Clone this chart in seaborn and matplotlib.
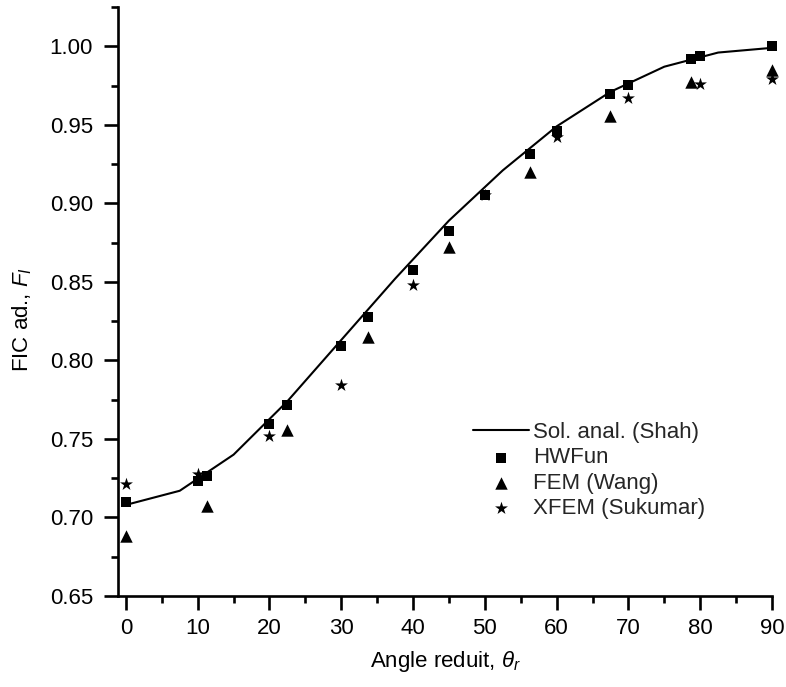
import matplotlib
matplotlib.use("Agg")
import matplotlib.pyplot as plt
import seaborn as sns
from matplotlib.ticker import MultipleLocator, FormatStrFormatter

# ---- data ----
shah_angle = [0, 7.5, 15, 22.5, 30, 37.5, 45, 52.5, 60, 67.5, 75, 82.5, 90]
shah_fic = [0.708, 0.717, 0.740, 0.774, 0.813, 0.852, 0.889, 0.921, 0.949, 0.971, 0.987, 0.996, 0.999]

hwfun_angle = [0, 10, 11.25, 20, 22.5, 30, 33.75, 40, 45, 50, 56.25, 60, 67.5, 70, 78.75, 80, 90]
hwfun_fic = [0.710, 0.7235, 0.7263, 0.7595, 0.7716, 0.8094, 0.8274, 0.8577, 0.8825, 0.9052,
             0.9317, 0.9461, 0.9695, 0.9756, 0.9922, 0.9938, 1.000]

fem_angle = [0, 11.25, 22.5, 33.75, 45, 56.25, 67.5, 78.75, 90]
fem_fic = [0.6885, 0.7072, 0.7556, 0.8151, 0.8719, 0.9200, 0.9557, 0.9775, 0.9848]

xfem_angle = [0, 10, 20, 30, 40, 50, 60, 70, 80, 90]
xfem_fic = [0.7214, 0.7277, 0.7521, 0.7843, 0.8480, 0.9050, 0.9420, 0.9669, 0.9758, 0.9792]

labels = ["Sol. anal. (Shah)", "HWFun", "FEM (Wang)", "XFEM (Sukumar)"]
x_ticks = [0, 10, 20, 30, 40, 50, 60, 70, 80, 90]
y_ticks = [0.65, 0.70, 0.75, 0.80, 0.85, 0.90, 0.95, 1.00]

# ---- style ----
sns.set_theme(style="ticks")
plt.rcParams["font.family"] = ["Liberation Sans", "DejaVu Sans"]
plt.rcParams["mathtext.fontset"] = "custom"
plt.rcParams["mathtext.rm"] = "Liberation Sans"
plt.rcParams["mathtext.it"] = "Liberation Sans:italic"

W, H = 786, 687
fig = plt.figure(figsize=(W / 100, H / 100), dpi=100)
L, R, B, T = 118, 772, 596, 7
ax = fig.add_axes([L / W, 1 - B / H, (R - L) / W, (B - T) / H])

sns.lineplot(x=shah_angle, y=shah_fic, ax=ax, color="black", linewidth=1.5,
             label=labels[0], legend=False)
sns.scatterplot(x=hwfun_angle, y=hwfun_fic, ax=ax, marker="s", s=62, color="black",
                linewidth=0, label=labels[1], clip_on=False, legend=False, zorder=3)
sns.scatterplot(x=fem_angle, y=fem_fic, ax=ax, marker="^", s=80, color="black",
                linewidth=0, label=labels[2], clip_on=False, legend=False, zorder=3)
sns.scatterplot(x=xfem_angle, y=xfem_fic, ax=ax, marker="*", s=95, color="black",
                linewidth=0, label=labels[3], clip_on=False, legend=False, zorder=3)

ax.set_xlim(-1.1, 90)
ax.set_ylim(0.65, 1.025)
ax.set_xticks(x_ticks)
ax.set_yticks(y_ticks)
ax.xaxis.set_minor_locator(MultipleLocator(5))
ax.yaxis.set_minor_locator(MultipleLocator(0.025))
ax.yaxis.set_major_formatter(FormatStrFormatter("%.2f"))

sns.despine(ax=ax)
for s in ("left", "bottom"):
    ax.spines[s].set_linewidth(1.9)
    ax.spines[s].set_color("black")
ax.tick_params(which="major", direction="out", length=10, width=1.9, color="black",
               labelsize=16, labelcolor="black")
ax.tick_params(which="minor", direction="out", length=5, width=1.9, color="black")
ax.tick_params(axis="y", which="major", pad=8)
ax.tick_params(axis="x", which="major", pad=6)

ax.set_xlabel(r"Angle reduit, $\theta_r$", fontsize=16, color="black")
ax.set_ylabel(r"FIC ad., $F_I$", fontsize=16, color="black")
ax.xaxis.set_label_coords(0.5, -0.09)
ax.yaxis.set_label_coords(-0.128, 0.47)

handles, labs = ax.get_legend_handles_labels()
ax.legend(handles, labs, loc="upper left", bbox_to_anchor=(473 / W, 1 - 422 / H),
          bbox_transform=fig.transFigure, frameon=False, fontsize=16,
          borderpad=0, borderaxespad=0, handlelength=2.5, handletextpad=0.2,
          labelspacing=0.2, scatterpoints=1)

fig.savefig("out.png", dpi=100)
